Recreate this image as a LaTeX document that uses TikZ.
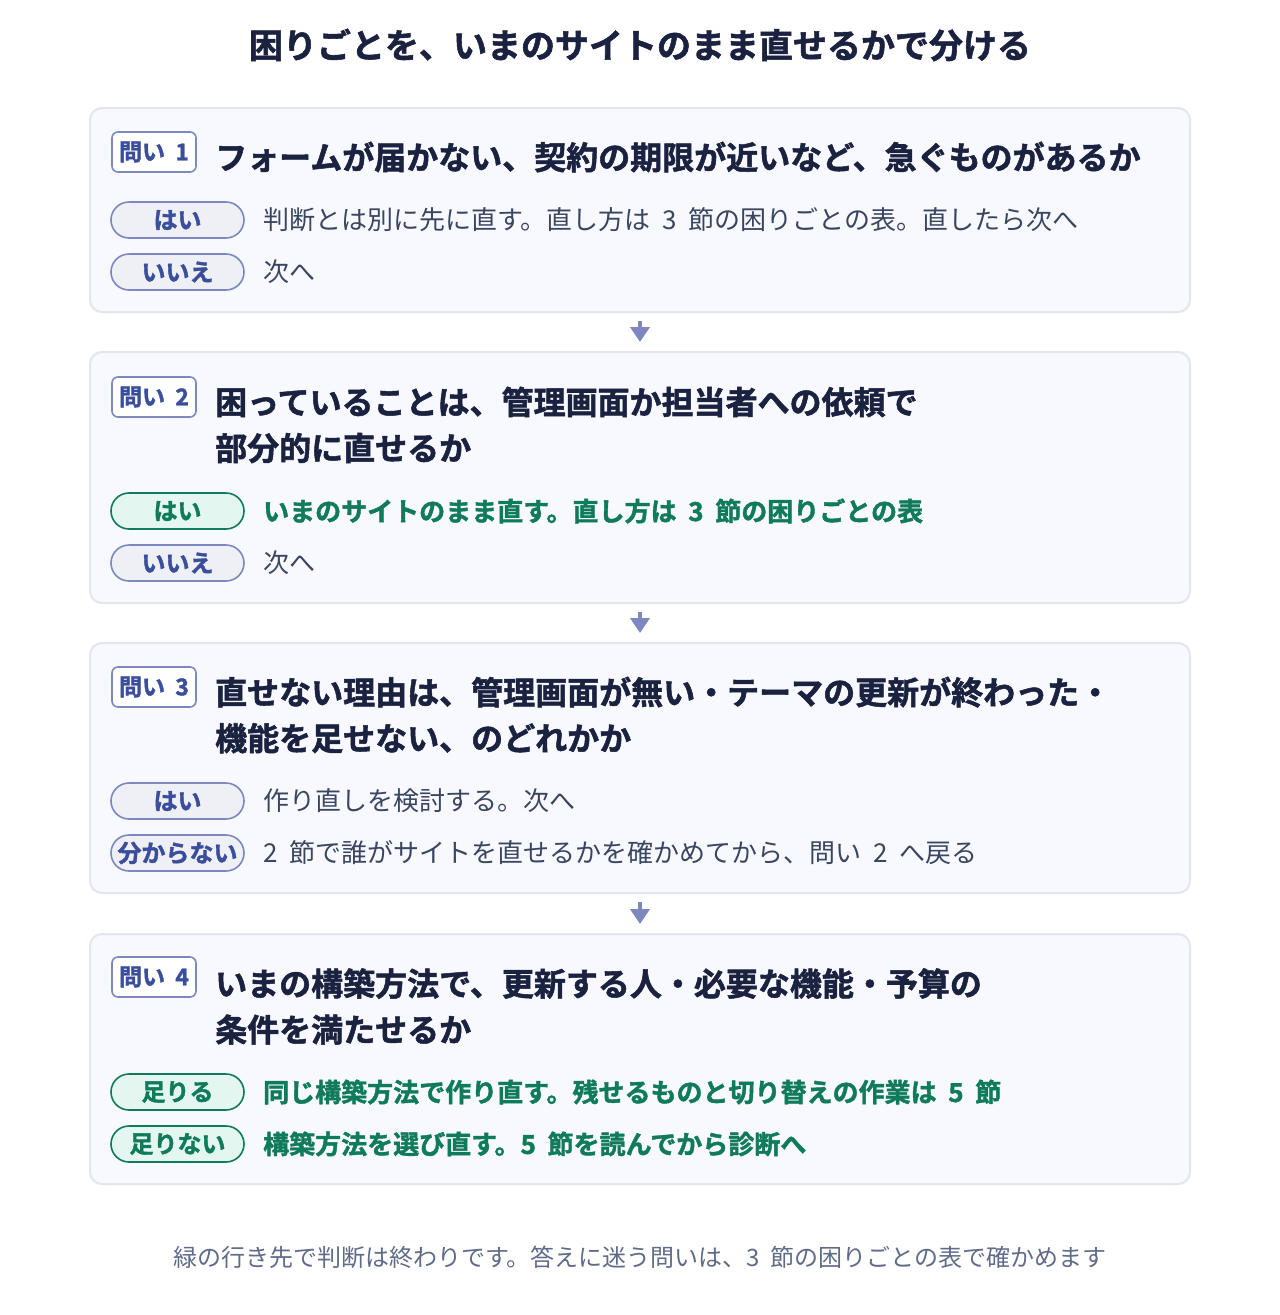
\documentclass[tikz,border=0pt]{standalone}
\usepackage{fontspec}
\setmainfont{Noto Sans CJK JP}[BoldFont={* Bold}, BoldFeatures={FakeBold=1.6}]
\usetikzlibrary{arrows.meta}
\newcommand{\wsp}{\hspace{0.45em}}
\definecolor{ink}{HTML}{1B2240}
\definecolor{body}{HTML}{3A4560}
\definecolor{note}{HTML}{5F6B88}
\definecolor{boxfill}{HTML}{F8F9FE}
\definecolor{boxline}{HTML}{E3E6EF}
\definecolor{tagline}{HTML}{7C88BF}
\definecolor{tagtext}{HTML}{3B4E9C}
\definecolor{pillfill}{HTML}{EEF0F6}
\definecolor{okline}{HTML}{127A5C}
\definecolor{okfill}{HTML}{E3F7F0}
\definecolor{okgreen}{HTML}{0F7B5B}
\begin{document}
\begin{tikzpicture}[x=1pt,y=-1pt,
    qbox/.style={draw=boxline, line width=2pt, fill=boxfill, rounded corners=12pt, minimum width=1100pt, inner sep=0pt},
    badge/.style={draw=tagline, line width=1.6pt, fill=white, rounded corners=6pt, minimum width=84pt, minimum height=40pt, inner sep=0pt, text=tagtext, font=\fontsize{23}{24}\selectfont\bfseries},
    pill/.style={draw=tagline, line width=1.6pt, fill=pillfill, rounded corners=18pt, minimum width=133pt, minimum height=36pt, inner sep=0pt, text=tagtext, font=\fontsize{24}{24}\selectfont\bfseries},
    okpill/.style={pill, draw=okline, fill=okfill, text=okgreen},
    qtext/.style={anchor=west, inner sep=0pt, align=left, text=ink, font=\fontsize{32}{46}\selectfont\bfseries},
    ans/.style={anchor=west, inner sep=0pt, text=body, font=\fontsize{26}{28}\selectfont},
    okans/.style={ans, text=okgreen, font=\fontsize{26}{28}\selectfont\bfseries},
    flow/.style={draw=tagline, line width=4pt, -{Triangle[width=19pt,length=15pt]}, shorten <=8pt, shorten >=9pt}]
    \useasboundingbox[fill=white](0,0) rectangle (1280,1315);

    \node[text=ink, inner sep=0pt, font=\fontsize{34}{36}\selectfont\bfseries] (title) at (640,45) {困りごとを、いまのサイトのまま直せるかで分ける};

    \node[qbox, minimum height=204pt] (q1) at (640,210) {};
    \node[badge] (b1) at (154,152) {問い\wsp 1};
    \node[qtext] (t1) at (215,157) {フォームが届かない、契約の期限が近いなど、急ぐものがあるか};
    \node[pill] (p1a) at (177.5,220) {はい};
    \node[ans] (a1a) at (263,220) {判断とは別に先に直す。直し方は\wsp 3\wsp 節の困りごとの表。直したら次へ};
    \node[pill] (p1b) at (177.5,272) {いいえ};
    \node[ans] (a1b) at (263,272) {次へ};

    \node[qbox, minimum height=251pt] (q2) at (640,477.5) {};
    \node[badge] (b2) at (154,397) {問い\wsp 2};
    \node[qtext] (t2) at (215,425) {困っていることは、管理画面か担当者への依頼で\\部分的に直せるか};
    \node[okpill] (p2a) at (177.5,511) {はい};
    \node[okans] (a2a) at (263,511) {いまのサイトのまま直す。直し方は\wsp 3\wsp 節の困りごとの表};
    \node[pill] (p2b) at (177.5,563) {いいえ};
    \node[ans] (a2b) at (263,563) {次へ};

    \node[qbox, minimum height=250pt] (q3) at (640,768) {};
    \node[badge] (b3) at (154,687) {問い\wsp 3};
    \node[qtext] (t3) at (215,715) {直せない理由は、管理画面が無い・テーマの更新が終わった・\\機能を足せない、のどれかか};
    \node[pill] (p3a) at (177.5,801) {はい};
    \node[ans] (a3a) at (263,801) {作り直しを検討する。次へ};
    \node[pill] (p3b) at (177.5,853) {分からない};
    \node[ans] (a3b) at (263,853) {2\wsp 節で誰がサイトを直せるかを確かめてから、問い\wsp 2\wsp へ戻る};

    \node[qbox, minimum height=250pt] (q4) at (640,1059) {};
    \node[badge] (b4) at (154,977) {問い\wsp 4};
    \node[qtext] (t4) at (215,1006.5) {いまの構築方法で、更新する人・必要な機能・予算の\\条件を満たせるか};
    \node[okpill] (p4a) at (177.5,1092) {足りる};
    \node[okans] (a4a) at (263,1092) {同じ構築方法で作り直す。残せるものと切り替えの作業は\wsp 5\wsp 節};
    \node[okpill] (p4b) at (177.5,1144) {足りない};
    \node[okans] (a4b) at (263,1144) {構築方法を選び直す。5\wsp 節を読んでから診断へ};

    \draw[flow] (q1.south) -- (q2.north);
    \draw[flow] (q2.south) -- (q3.north);
    \draw[flow] (q3.south) -- (q4.north);

    \node[text=note, inner sep=0pt, font=\fontsize{24}{26}\selectfont] (foot) at (640,1257) {緑の行き先で判断は終わりです。答えに迷う問いは、3\wsp 節の困りごとの表で確かめます};
\end{tikzpicture}
\end{document}
